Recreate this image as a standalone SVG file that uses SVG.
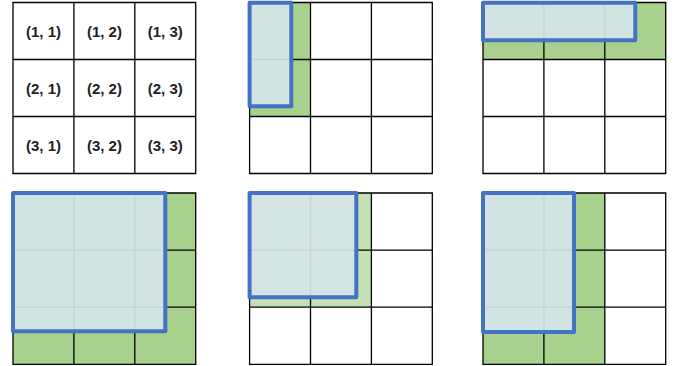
<svg xmlns="http://www.w3.org/2000/svg" width="677" height="366" viewBox="0 0 677 366">
  <defs>
    <style>
      .bg { fill: #ffffff; }
      .g { fill: #a9d18e; }
      .gl { fill: #c5e0b4; }
      .grid { fill: none; stroke: #000000; stroke-width: 1.3; }
      .sel { fill: #d6e5e8; fill-opacity: 0.92; stroke: #4472c4; stroke-width: 4; stroke-linejoin: round; }
      .lbl { font-family: "Liberation Sans", Arial, sans-serif; font-size: 15px; font-weight: bold; fill: #222222; text-anchor: middle; }
    </style>
  </defs>
  <rect class="bg" x="0" y="0" width="677" height="366"/>

  <!-- Panel 1: index grid -->
  <g id="panel1">
    <path class="grid" d="M13,2.5H195.7V173.5H13Z M73.9,2.5V173.5 M134.8,2.5V173.5 M13,59.5H195.7 M13,116.5H195.7"/>
    <text class="lbl" x="43.5" y="36.5">(1, 1)</text>
    <text class="lbl" x="104.4" y="36.5">(1, 2)</text>
    <text class="lbl" x="165.3" y="36.5">(1, 3)</text>
    <text class="lbl" x="43.5" y="93.6">(2, 1)</text>
    <text class="lbl" x="104.4" y="93.6">(2, 2)</text>
    <text class="lbl" x="165.3" y="93.6">(2, 3)</text>
    <text class="lbl" x="43.5" y="150.7">(3, 1)</text>
    <text class="lbl" x="104.4" y="150.7">(3, 2)</text>
    <text class="lbl" x="165.3" y="150.7">(3, 3)</text>
  </g>

  <!-- Panel 2: top middle -->
  <g id="panel2">
    <rect class="g" x="249.6" y="2.5" width="60.9" height="114"/>
    <path class="grid" d="M249.6,2.5H432.3V173.5H249.6Z M310.5,2.5V173.5 M371.4,2.5V173.5 M249.6,59.5H432.3 M249.6,116.5H432.3"/>
    <rect class="sel" x="249.6" y="2.7" width="41.7" height="103.6"/>
  </g>

  <!-- Panel 3: top right -->
  <g id="panel3">
    <rect class="g" x="483" y="2.5" width="182.7" height="57"/>
    <path class="grid" d="M483,2.5H665.7V173.5H483Z M543.9,2.5V173.5 M604.8,2.5V173.5 M483,59.5H665.7 M483,116.5H665.7"/>
    <rect class="sel" x="483" y="2.7" width="152.3" height="37.6"/>
  </g>

  <!-- Panel 4: bottom left -->
  <g id="panel4">
    <rect class="g" x="13" y="193" width="182.7" height="171.3"/>
    <path class="grid" d="M13,193H195.7V364.3H13Z M73.9,193V364.3 M134.8,193V364.3 M13,250.1H195.7 M13,307.2H195.7"/>
    <rect class="sel" x="13" y="193" width="152.3" height="138.3"/>
  </g>

  <!-- Panel 5: bottom middle -->
  <g id="panel5">
    <rect class="gl" x="249.6" y="193" width="121.8" height="114.2"/>
    <path class="grid" d="M249.6,193H432.3V364.3H249.6Z M310.5,193V364.3 M371.4,193V364.3 M249.6,250.1H432.3 M249.6,307.2H432.3"/>
    <rect class="sel" x="249.6" y="193" width="106.7" height="104.3"/>
  </g>

  <!-- Panel 6: bottom right -->
  <g id="panel6">
    <rect class="g" x="483" y="193" width="121.8" height="171.3"/>
    <path class="grid" d="M483,193H665.7V364.3H483Z M543.9,193V364.3 M604.8,193V364.3 M483,250.1H665.7 M483,307.2H665.7"/>
    <rect class="sel" x="483" y="193" width="91" height="139"/>
  </g>
</svg>
